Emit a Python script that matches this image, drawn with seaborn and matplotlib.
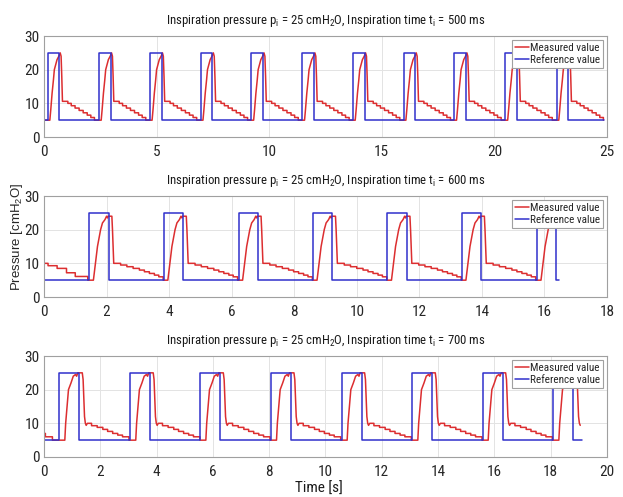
import numpy as np
import pandas as pd
import matplotlib
matplotlib.use("Agg")
import matplotlib.pyplot as plt
from matplotlib import font_manager
import seaborn as sns

# ---------------- data ----------------
# Panel 1: t_i = 500 ms
rise_1 = [0.16, 2.44, 4.70, 6.96, 9.21, 11.47, 13.72, 15.97, 18.22, 20.49, 22.76]
dur_1 = 0.52
end_1 = 24.85
head_t_1 = [0.0]
head_v_1 = [5.0]
tmpl_t_1 = [0, 0.10, 0.14, 0.20, 0.26, 0.30, 0.36, 0.42, 0.50, 0.56, 0.60, 0.63, 0.66,
            0.90, 0.90, 1.05, 1.05, 1.22, 1.22, 1.40, 1.40, 1.58, 1.58, 1.76, 1.76,
            1.92, 1.92, 2.08, 2.08]
tmpl_v_1 = [5, 5, 8, 13, 17, 20, 21.5, 23, 24, 25, 24, 18, 10.6,
            10.6, 10.0, 10.0, 9.3, 9.3, 8.6, 8.6, 7.9, 7.9, 7.2, 7.2, 6.5,
            6.5, 5.8, 5.8, 5.0]

# Panel 2: t_i = 600 ms
rise_2 = [1.45, 3.83, 6.22, 8.60, 10.98, 13.36, 15.76]
dur_2 = 0.62
end_2 = 16.46
end_meas_2 = 16.20
head_t_2 = [0.0, 0.13, 0.13, 0.42, 0.42, 0.72, 0.72, 1.00, 1.00, 1.40, 1.40]
head_v_2 = [10.0, 10.0, 9.3, 9.3, 8.5, 8.5, 7.2, 7.2, 6.1, 6.1, 5.0]
tmpl_t_2 = [0, 0.13, 0.17, 0.21, 0.26, 0.30, 0.36, 0.42, 0.50, 0.55, 0.58, 0.60, 0.72,
            0.74, 0.78, 1.00, 1.00, 1.20, 1.20, 1.40, 1.40, 1.60, 1.60, 1.76, 1.76,
            1.92, 1.92, 2.08, 2.08, 2.22, 2.22, 2.36, 2.36]
tmpl_v_2 = [5, 5, 8, 11, 15, 17, 20, 22, 23, 24, 23.5, 24, 24,
            20, 10, 10, 9.5, 9.5, 9.0, 9.0, 8.5, 8.5, 8.0, 8.0, 7.5,
            7.5, 7.0, 7.0, 6.5, 6.5, 6.0, 6.0, 5.0]

# Panel 3: t_i = 700 ms
rise_3 = [0.54, 3.06, 5.55, 8.06, 10.57, 13.08, 15.58, 18.09]
dur_3 = 0.71
end_3 = 19.10
end_meas_3 = 19.06
head_t_3 = [0.0, 0.05, 0.05, 0.30, 0.30]
head_v_3 = [7.0, 7.0, 6.0, 6.0, 5.0]
tmpl_t_3 = [0, 0.20, 0.23, 0.28, 0.33, 0.42, 0.50, 0.58, 0.62, 0.66, 0.82, 0.85, 0.90,
            0.93, 0.96, 1.00, 1.15, 1.15, 1.35, 1.35, 1.55, 1.55, 1.72, 1.72, 1.90,
            1.90, 2.08, 2.08, 2.25, 2.25, 2.48, 2.48]
tmpl_v_3 = [5, 5, 10, 15, 20, 22, 24, 24.5, 24, 25, 25, 23, 12,
            10, 9.4, 10, 10, 9.3, 9.3, 8.8, 8.8, 8.2, 8.2, 7.6, 7.6,
            7.0, 7.0, 6.5, 6.5, 6.0, 6.0, 5.0]

p_low = 5.0
p_high = 25.0
titles = ["Inspiration pressure $p_i$ = 25 $cmH_2O$, Inspiration time $t_i$ = 500 ms",
          "Inspiration pressure $p_i$ = 25 $cmH_2O$, Inspiration time $t_i$ = 600 ms",
          "Inspiration pressure $p_i$ = 25 $cmH_2O$, Inspiration time $t_i$ = 700 ms"]
xmax = [25, 18, 20]
xstep = [5, 2, 2]
yticks = [0, 10, 20, 30]
series_names = ["Measured value", "Reference value"]

# ---------------- styling ----------------
sns.set_theme(style="white")
avail = {f.name for f in font_manager.fontManager.ttflist}
narrow = "Liberation Sans"
for cand in ["Arial Narrow", "Liberation Sans Narrow", "Roboto Condensed",
             "Archivo Narrow", "PT Sans Narrow", "Asap Condensed"]:
    if cand in avail:
        narrow = cand
        break
plt.rcParams["font.family"] = [narrow, "DejaVu Sans"]
plt.rcParams["mathtext.fontset"] = "custom"
plt.rcParams["mathtext.rm"] = narrow
plt.rcParams["mathtext.it"] = narrow
plt.rcParams["mathtext.bf"] = narrow
plt.rcParams["mathtext.default"] = "regular"

RED = "#dc2e30"
BLUE = "#3030cc"


def build_measured(head_t, head_v, rises, tt, tv, t_end):
    t = list(head_t)
    v = list(head_v)
    for r in rises:
        t += [r + x for x in tt]
        v += list(tv)
    t = np.array(t)
    v = np.array(v)
    keep = t <= t_end + 1e-9
    return t[keep], v[keep]


def build_reference(rises, dur, t_end):
    t = [0.0]
    v = [p_low]
    for r in rises:
        t += [r, r, r + dur, r + dur]
        v += [p_low, p_high, p_high, p_low]
    t.append(t_end)
    v.append(p_low)
    return np.array(t), np.array(v)


panels = [
    (head_t_1, head_v_1, rise_1, tmpl_t_1, tmpl_v_1, end_1, dur_1, end_1),
    (head_t_2, head_v_2, rise_2, tmpl_t_2, tmpl_v_2, end_meas_2, dur_2, end_2),
    (head_t_3, head_v_3, rise_3, tmpl_t_3, tmpl_v_3, end_meas_3, dur_3, end_3),
]

fig = plt.figure(figsize=(6.23, 4.97), dpi=100)
fig.patch.set_facecolor("white")
bottoms = [0.7243, 0.4024, 0.0805]
axes = []
for i, (ht, hv, rises, tt, tv, mend, dur, rend) in enumerate(panels):
    ax = fig.add_axes([0.0706, bottoms[i], 0.9037, 0.2032])
    axes.append(ax)
    mt, mv = build_measured(ht, hv, rises, tt, tv, mend)
    rt, rv = build_reference(rises, dur, rend)
    df = pd.concat([
        pd.DataFrame({"t": mt, "p": mv, "series": series_names[0]}),
        pd.DataFrame({"t": rt, "p": rv, "series": series_names[1]}),
    ], ignore_index=True)
    sns.lineplot(data=df, x="t", y="p", hue="series", estimator=None, sort=False,
                 palette={series_names[0]: RED, series_names[1]: BLUE},
                 hue_order=series_names, linewidth=1.1, ax=ax)
    ax.set_xlim(0, xmax[i])
    ax.set_ylim(0, 30)
    ax.set_xticks(np.arange(0, xmax[i] + 0.01, xstep[i]))
    ax.set_yticks(yticks)
    ax.grid(True, color="#e3e3e3", linewidth=0.7)
    ax.set_axisbelow(True)
    for s in ax.spines.values():
        s.set_color("#a0a0a0")
        s.set_linewidth(0.8)
    ax.tick_params(direction="in", length=3, width=0.6, color="#a0a0a0",
                   labelsize=11, labelcolor="#262626")
    ax.tick_params(axis="x", pad=6)
    ax.tick_params(axis="y", pad=3)
    ax.set_xlabel("")
    ax.set_ylabel("")
    ax.set_title(titles[i], fontsize=9.2, color="#1a1a1a", pad=9)
    leg = ax.legend(loc="upper right", fontsize=8.0, frameon=True, fancybox=False,
                    framealpha=1, edgecolor="#a0a0a0", borderaxespad=0.35,
                    handlelength=1.2, handletextpad=0.1, borderpad=0.3,
                    labelspacing=0.15)
    leg.get_frame().set_linewidth(0.8)
    leg.set_zorder(10)

axes[2].set_xlabel("Time [s]", fontsize=11, color="#1a1a1a")
axes[2].xaxis.set_label_coords(0.488, -0.245)
fig.text(0.027, 0.523, "Pressure [cmH$_2$O]", rotation=90, ha="center", va="center",
         fontsize=9.5, color="#262626", family=["Liberation Sans", "DejaVu Sans"],
         math_fontfamily="dejavusans")

fig.savefig("out.png", dpi=100, facecolor="white")
